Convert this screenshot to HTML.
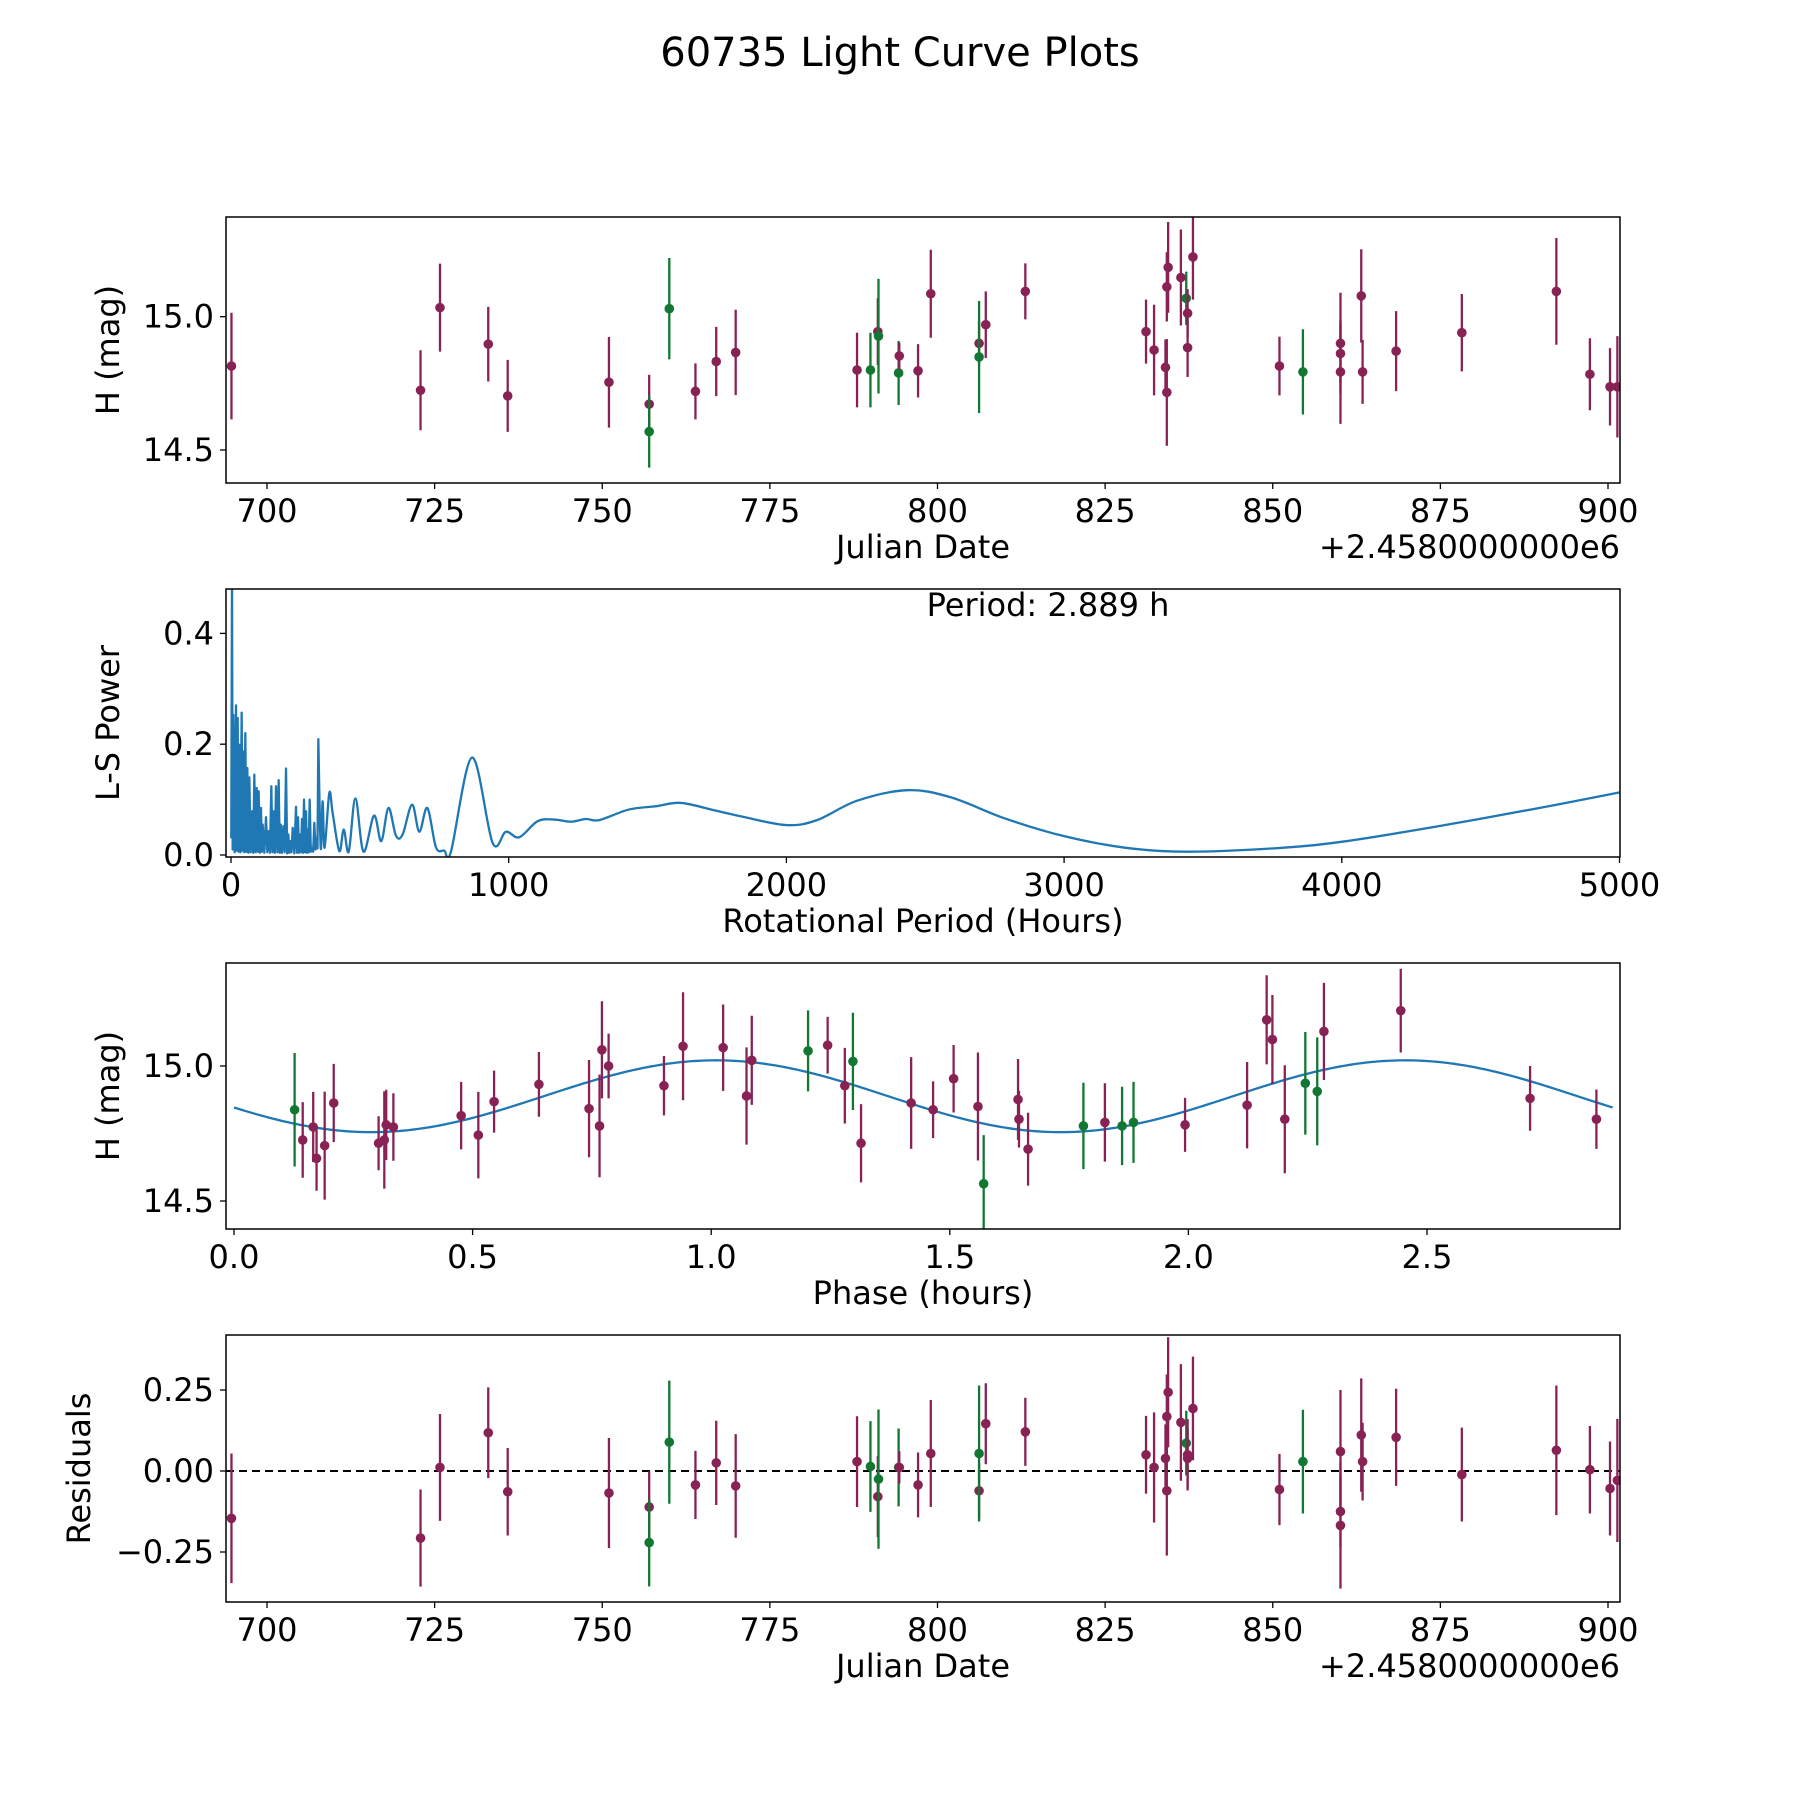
<!DOCTYPE html>
<html><head><meta charset="utf-8"><style>
html,body{margin:0;padding:0;background:#fff}
svg{display:block}
text{font-family:"DejaVu Sans","Liberation Sans",sans-serif;fill:#000}
</style></head><body>
<svg id="fig" width="1800" height="1800" viewBox="0 0 1800 1800" xmlns="http://www.w3.org/2000/svg">
<text x="900" y="66" font-size="40" text-anchor="middle">60735 Light Curve Plots</text>
</svg>
<script>
// ---------- DATA ----------
const obsDates=[694.7,722.9,725.8,733.0,735.9,751.0,757.0,757.0,760.0,763.9,767.0,769.9,788.0,790.0,791.1,791.2,794.2,794.3,797.1,799.0,806.2,806.2,807.2,813.1,831.1,832.3,834.0,834.2,834.2,834.4,836.3,837.1,837.3,837.3,838.1,851.0,854.5,860.1,860.1,860.1,863.2,863.4,868.4,878.2,892.3,897.3,900.3,901.4];
const obsMags=[14.815,14.724,15.034,14.897,14.703,14.754,14.672,14.569,15.030,14.72,14.832,14.866,14.80,14.80,14.944,14.927,14.789,14.853,14.797,15.086,14.90,14.849,14.97,15.095,14.944,14.875,14.81,14.716,15.112,15.185,15.147,15.069,15.013,14.884,15.224,14.815,14.793,14.90,14.862,14.793,15.078,14.793,14.871,14.94,15.095,14.784,14.737,14.737];
const obsErrs=[0.2,0.15,0.165,0.14,0.135,0.17,0.11,0.135,0.19,0.105,0.13,0.16,0.14,0.14,0.125,0.215,0.12,0.05,0.1,0.165,0.085,0.21,0.125,0.105,0.12,0.17,0.105,0.2,0.13,0.17,0.18,0.1,0.09,0.11,0.16,0.11,0.16,0.19,0.11,0.195,0.175,0.12,0.15,0.145,0.2,0.135,0.145,0.19];
const obsFilter="PPPPPPPGGPPPPGPGGPPPPGPPPPPPPPPGPPPPGPPPPPPPPPPP";
const residuals=[-0.146,-0.207,0.011,0.118,-0.064,-0.068,-0.111,-0.221,0.089,-0.043,0.025,-0.046,0.029,0.014,-0.079,-0.025,0.011,0.011,-0.043,0.054,-0.061,0.054,0.146,0.121,0.05,0.011,0.039,-0.061,0.168,0.243,0.15,0.086,0.039,0.05,0.193,-0.057,0.029,0.06,-0.125,-0.168,0.111,0.029,0.104,-0.011,0.064,0.004,-0.054,-0.029];
const phases=[0.127,0.144,0.166,0.173,0.19,0.209,0.303,0.315,0.319,0.334,0.476,0.512,0.545,0.639,0.744,0.766,0.771,0.785,0.901,0.941,1.025,1.074,1.085,1.203,1.244,1.28,1.297,1.314,1.419,1.465,1.508,1.559,1.571,1.643,1.645,1.664,1.78,1.825,1.861,1.885,1.993,2.123,2.164,2.176,2.202,2.245,2.27,2.284,2.445,2.716,2.855];
const phaseMags=[14.838,14.726,14.774,14.658,14.705,14.863,14.714,14.726,14.782,14.774,14.816,14.744,14.868,14.932,14.842,14.778,15.06,15.0,14.927,15.073,15.068,14.889,15.021,15.056,15.077,14.927,15.017,14.714,14.863,14.838,14.953,14.85,14.564,14.876,14.803,14.692,14.778,14.791,14.778,14.791,14.782,14.855,15.171,15.098,14.803,14.936,14.906,15.128,15.205,14.88,14.803];
const phaseErrs=[0.21,0.14,0.13,0.12,0.2,0.145,0.1,0.18,0.13,0.125,0.125,0.16,0.115,0.12,0.18,0.19,0.18,0.12,0.11,0.2,0.16,0.18,0.165,0.15,0.105,0.14,0.18,0.145,0.17,0.105,0.125,0.2,0.18,0.15,0.105,0.135,0.16,0.145,0.145,0.15,0.1,0.16,0.165,0.165,0.2,0.19,0.2,0.18,0.155,0.12,0.11];
const phaseFilter="GPPPPPPPPPPPPPPPPPPPPPPGPPGPPPPPGPPPGPGGPPPPPGGPPPP";
const fitMean=[14.888], fitAmp=[0.133], fitPeak=[1.01], fitCycle=[1.4445], bestPeriod=[2.889];
// noisy short-period region (peaks and troughs)
const lsSpikePeriods=[1.0,3.6,6.0,8.4,13.2,18.0,21.0,24.0,27.0,30.0,34.2,38.4,41.4,44.4,48.0,51.6,55.2,58.8,62.4,66.0,70.8,75.6,79.8,84.0,88.2,92.4,96.0,99.6,103.8,108.0,111.0,114.0,120.0,126.0,130.8,135.6,140.4,145.2,149.4,153.6,157.8,162.1,166.9,171.7,175.3,178.9,183.7,188.5,193.3,198.1,202.3,206.5,210.1,213.7,217.9,222.1,228.1,234.1,237.7,241.3,244.9,248.5,252.1,255.7,259.3,262.9,266.5,270.1,273.1,276.1,279.7,283.3,287.5,291.7,295.9,300.1,304.3,308.5,311.5];
const lsSpikePowers=[0.03,0.5,0.01,0.253,0.005,0.27,0.008,0.247,0.006,0.199,0.005,0.257,0.008,0.187,0.005,0.22,0.006,0.157,0.004,0.14,0.005,0.079,0.004,0.145,0.005,0.121,0.006,0.115,0.004,0.085,0.006,0.055,0.004,0.068,0.005,0.043,0.004,0.124,0.005,0.079,0.004,0.124,0.005,0.135,0.004,0.055,0.004,0.052,0.005,0.156,0.003,0.037,0.004,0.025,0.005,0.049,0.003,0.087,0.004,0.068,0.004,0.037,0.005,0.065,0.004,0.1,0.005,0.079,0.004,0.046,0.005,0.1,0.006,0.013,0.006,0.058,0.01,0.031,0.012];
// smooth long-period region
const lsSmoothPeriods=[314.5,323,330,337,354,366,390,406,424,448,477,515,541,567,594,618,652,678,707,738,768,792,868,942,990,1038,1104,1164,1224,1278,1326,1432,1529,1621,1746,1843,2000,2110,2255,2436,2593,2787,3000,3222,3441,3755,4002,4360,4723,5001];
const lsSmoothPowers=[0.209,0.013,0.097,0.013,0.112,0.076,0.007,0.046,0.006,0.102,0.006,0.071,0.025,0.085,0.035,0.037,0.091,0.042,0.085,0.014,0.008,0.006,0.176,0.022,0.042,0.032,0.061,0.064,0.06,0.065,0.063,0.082,0.088,0.094,0.080,0.069,0.054,0.063,0.098,0.117,0.104,0.066,0.034,0.013,0.006,0.012,0.024,0.053,0.086,0.113];
const jdTicks=[700,725,750,775,800,825,850,875,900];
const magTicks=[14.5,15.0];
const lsXTicks=[0,1000,2000,3000,4000,5000];
const lsYTicks=[0.0,0.2,0.4];
const phaseTicks=[0.0,0.5,1.0,1.5,2.0,2.5];
const resTicks=[-0.25,0.0,0.25];

// ---------- DRAW ----------
const NS="http://www.w3.org/2000/svg";
const svg=document.getElementById('fig');
const PURPLE='#882255', GREEN='#117733', BLUE='#1f77b4';
const L=226,R=1620;
function mk(tag,attrs,parent){const e=document.createElementNS(NS,tag);for(const k in attrs)e.setAttribute(k,attrs[k]);(parent||svg).appendChild(e);return e;}
function scale(d0,d1,r0,r1){return v=>r0+(v-d0)*(r1-r0)/(d1-d0);}

function axes(name,top,bot,xs,ys,xt,yt,xfmt,yfmt,xlabel,ylabel,ylabX,offset){
  const g=mk('g',{});
  
  
  xt.forEach(t=>{const x=xs(t);
    const tk=mk('line',{x1:x,x2:x,y1:bot,y2:bot+6,stroke:'#000','stroke-width':1.3},g);
    
    
    const tl=mk('text',{x:x,y:bot+39,'font-size':32,'text-anchor':'middle'},g);tl.textContent=xfmt(t);
    
    });
  yt.forEach(t=>{const y=ys(t);
    const tk=mk('line',{x1:L-6,x2:L,y1:y,y2:y,stroke:'#000','stroke-width':1.3},g);
    
    
    const tl=mk('text',{x:L-12,y:y+11,'font-size':32,'text-anchor':'end'},g);tl.textContent=yfmt(t);
    
    });
  const xl=mk('text',{x:(L+R)/2,y:bot+75,'font-size':32,'text-anchor':'middle'},g);xl.textContent=xlabel;
  
  
  const cy=(top+bot)/2;
  const yl=mk('text',{x:ylabX,y:cy,'font-size':32,'text-anchor':'middle',transform:`rotate(-90 ${ylabX} ${cy})`},g);yl.textContent=ylabel;
  
  
  if(offset){const ot=mk('text',{x:R,y:bot+75,'font-size':32,'text-anchor':'end'},g);ot.textContent=offset;
    
    }
  const cp='clip-'+name;
  const cpe=mk('clipPath',{id:cp},g);mk('rect',{x:L,y:top,width:R-L,height:bot-top},cpe);
  const plot=mk('g',{'clip-path':`url(#${cp})`},g);
  
  
  return {g,plot,finish(){const fr=mk('rect',{x:L,y:top,width:R-L,height:bot-top,fill:'none',stroke:'#000','stroke-width':1.5},g);
    
    }};
}
function errPoint(parent,x,y,ylo,yhi,col){
  const ln=mk('line',{x1:x,x2:x,y1:ylo,y2:yhi,stroke:col,'stroke-width':2.3},parent);
  
  
  const c=mk('circle',{cx:x,cy:y,r:4.8,fill:col},parent);
  
  
}
const f1=t=>t.toFixed(1), f0=t=>String(t), f2=t=>(t<0?'\u2212':'')+Math.abs(t).toFixed(2);

// Panel 1
{const xs=scale(700,900,267,1608), ys=scale(15.0,14.5,316.7,450);
 const a=axes('light-curve-panel',217,483,xs,ys,jdTicks,magTicks,f0,f1,'Julian Date','H (mag)',119,'+2.4580000000e6');
 obsDates.forEach((d,i)=>{const col=obsFilter[i]==='G'?GREEN:PURPLE;
   errPoint(a.plot,xs(d),ys(obsMags[i]),ys(obsMags[i]-obsErrs[i]),ys(obsMags[i]+obsErrs[i]),col);});
 a.finish();}

// Panel 2
{const xs=scale(0,1000,231,508.7), ys=scale(0,0.4,855,633.4);
 const a=axes('periodogram-panel',589,857,xs,ys,lsXTicks,lsYTicks,f0,f1,'Rotational Period (Hours)','L-S Power',119,null);
 let d='';lsSpikePeriods.forEach((p,i)=>{d+=(i?'L':'M')+xs(p).toFixed(2)+' '+ys(lsSpikePowers[i]).toFixed(2);});
 // smooth part: Catmull-Rom through the sampled points
 const px=lsSmoothPeriods.map(xs), py=lsSmoothPowers.map(ys);
 d+='L'+px[0].toFixed(2)+' '+py[0].toFixed(2);
 for(let i=0;i<px.length-1;i++){
   const x0=px[Math.max(0,i-1)],y0=py[Math.max(0,i-1)],x1=px[i],y1=py[i],x2=px[i+1],y2=py[i+1],x3=px[Math.min(px.length-1,i+2)],y3=py[Math.min(px.length-1,i+2)];
   const c1x=x1+(x2-x0)/6,c1y=y1+(y2-y0)/6,c2x=x2-(x3-x1)/6,c2y=y2-(y3-y1)/6;
   d+=`C${c1x.toFixed(2)} ${c1y.toFixed(2)} ${c2x.toFixed(2)} ${c2y.toFixed(2)} ${x2.toFixed(2)} ${y2.toFixed(2)}`;
 }
 const pl=mk('path',{d,fill:'none',stroke:BLUE,'stroke-width':2.3,'stroke-linejoin':'round'},a.plot);
 
 
 const pt=mk('text',{x:1048,y:616,'font-size':32,'text-anchor':'middle'},a.g);pt.textContent='Period: '+bestPeriod[0].toFixed(3)+' h';
 
 
 a.finish();}

// Panel 3
{const xs=scale(0,2.5,234,1427), ys=scale(15.0,14.5,1066,1201);
 const a=axes('phase-folded-panel',963,1229,xs,ys,phaseTicks,magTicks,f1,f1,'Phase (hours)','H (mag)',119,null);
 let d='';for(let k=0;k<=400;k++){const p=bestPeriod[0]*k/400;const h=fitMean[0]+fitAmp[0]*Math.cos(2*Math.PI*(p-fitPeak[0])/fitCycle[0]);d+=(k?'L':'M')+xs(p).toFixed(2)+' '+ys(h).toFixed(2);}
 const fl=mk('path',{d,fill:'none',stroke:BLUE,'stroke-width':2.3},a.plot);
 
 
 phases.forEach((p,i)=>{const col=phaseFilter[i]==='G'?GREEN:PURPLE;
   errPoint(a.plot,xs(p),ys(phaseMags[i]),ys(phaseMags[i]-phaseErrs[i]),ys(phaseMags[i]+phaseErrs[i]),col);});
 a.finish();}

// Panel 4
{const xs=scale(700,900,267,1608), ys=scale(0,0.25,1471,1390);
 const a=axes('residuals-panel',1335,1602,xs,ys,jdTicks,resTicks,f0,f2,'Julian Date','Residuals',90,'+2.4580000000e6');
 const zl=mk('line',{x1:L,x2:R,y1:ys(0),y2:ys(0),stroke:'#000','stroke-width':2,'stroke-dasharray':'8 5'},a.plot);
 
 
 obsDates.forEach((d,i)=>{const col=obsFilter[i]==='G'?GREEN:PURPLE;
   errPoint(a.plot,xs(d),ys(residuals[i]),ys(residuals[i]-obsErrs[i]),ys(residuals[i]+obsErrs[i]),col);});
 a.finish();}
</script>
</body></html>
